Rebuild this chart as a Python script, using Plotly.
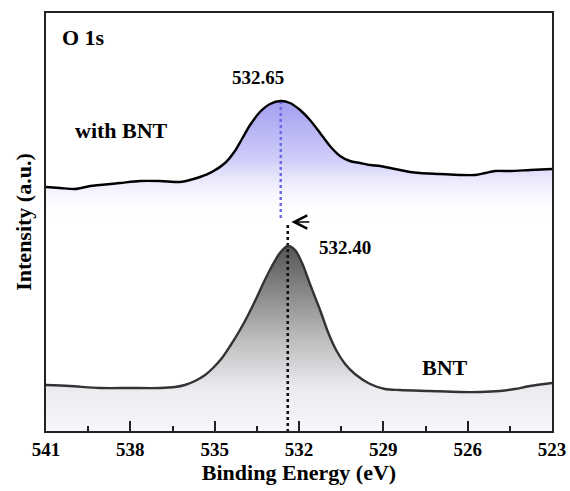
import plotly.graph_objects as go

# Binding energy (eV) and intensity (a.u.)
be_with = [541.00, 540.50, 539.97, 539.43, 539.08, 538.37, 537.66, 536.94, 536.23, 535.88,
           535.52, 535.10, 534.63, 534.28, 534.03, 533.74, 533.39, 533.03, 532.65, 532.32,
           531.96, 531.61, 531.25, 530.90, 530.54, 530.19, 529.83, 529.47, 529.12, 528.76,
           528.41, 528.05, 527.70, 526.99, 526.27, 525.74, 525.38, 525.03, 524.49, 523.78, 523.00]
int_with = [244, 243, 242, 245, 246, 248, 250, 250, 249, 251,
            254, 259, 268, 280, 292, 306, 319, 327, 330, 328,
            321, 311, 298, 285, 275, 270, 268, 266, 265, 263,
            261, 259, 258, 257, 256, 256, 258, 260, 260, 261, 262]

be_bnt = [541.00, 540.15, 539.08, 538.01, 536.94, 536.41, 536.06, 535.70, 535.34, 535.06,
          534.74, 534.45, 534.10, 533.81, 533.53, 533.25, 532.96, 532.68, 532.40, 532.14,
          531.89, 531.61, 531.25, 530.97, 530.68, 530.36, 530.01, 529.47, 528.94, 528.41,
          527.34, 526.27, 525.56, 524.85, 524.32, 523.78, 523.00]
int_bnt = [46, 45, 43, 43, 43, 44, 46, 50, 56, 63,
           73, 85, 101, 116, 132, 149, 165, 178, 185, 181,
           168, 147, 121, 99, 81, 67, 57, 47, 42, 41,
           40, 39, 39, 40, 42, 45, 48]

peak_with = 532.65
peak_bnt = 532.40
x_ticks = [541, 538, 535, 532, 529, 526, 523]

FONT = "Liberation Serif"

fig = go.Figure()

# gradient fills
fig.add_trace(go.Scatter(
    x=be_with, y=int_with, mode="lines", line=dict(width=0, shape="spline", smoothing=0.8),
    fill="tozeroy",
    fillgradient=dict(type="vertical", start=211, stop=330,
                      colorscale=[[0, "rgba(255,255,255,0)"], [0.5, "rgba(208,206,249,1)"],
                                  [1, "rgba(162,158,240,1)"]]),
    hoverinfo="skip", showlegend=False))
fig.add_trace(go.Scatter(
    x=be_bnt, y=int_bnt, mode="lines", line=dict(width=0, shape="spline", smoothing=0.8),
    fill="tozeroy",
    fillgradient=dict(type="vertical", start=0, stop=185,
                      colorscale=[[0, "#f6f8fb"], [0.23, "#e9ebef"], [0.5, "#bcbcbd"],
                                  [1, "#555555"]]),
    hoverinfo="skip", showlegend=False))

# dotted peak markers
fig.add_trace(go.Scatter(x=[peak_with, peak_with], y=[330, 211], mode="lines",
                         line=dict(color="#6a68e6", width=2.4, dash="dot"),
                         hoverinfo="skip", showlegend=False))
fig.add_trace(go.Scatter(x=[peak_bnt, peak_bnt], y=[206, 0], mode="lines",
                         line=dict(color="#111111", width=2.6, dash="dot"),
                         hoverinfo="skip", showlegend=False))

# curves
fig.add_trace(go.Scatter(x=be_with, y=int_with, mode="lines",
                         line=dict(color="#000000", width=2.4, shape="spline", smoothing=0.8),
                         name="with BNT", showlegend=False))
fig.add_trace(go.Scatter(x=be_bnt, y=int_bnt, mode="lines",
                         line=dict(color="#333333", width=2.4, shape="spline", smoothing=0.8),
                         name="BNT", showlegend=False))

lab = dict(family=FONT, size=22, color="#000000", weight="bold")
num = dict(family=FONT, size=19, color="#000000", weight="bold")
fig.add_annotation(x=539.67, y=394, text="<b>O 1s</b>", showarrow=False, font=lab)
fig.add_annotation(x=538.31, y=301, text="<b>with BNT</b>", showarrow=False, font=lab)
fig.add_annotation(x=526.79, y=64, text="<b>BNT</b>", showarrow=False, font=lab)
fig.add_annotation(x=533.46, y=354, text="<b>532.65</b>", showarrow=False, font=num)
fig.add_annotation(x=530.36, y=184, text="<b>532.40</b>", showarrow=False, font=num)
fig.add_annotation(x=532.27, y=209, ax=531.58, ay=209, xref="x", yref="y",
                   axref="x", ayref="y", text="", showarrow=True,
                   arrowhead=5, arrowsize=1.6, arrowwidth=1.6, arrowcolor="#000000")

fig.update_xaxes(
    range=[541, 523], tickvals=x_ticks, ticktext=[str(v) for v in x_ticks],
    ticks="inside", ticklen=10, tickwidth=2, tickcolor="#222222",
    minor=dict(dtick=1.5, tick0=541, ticks="inside", ticklen=5, tickwidth=2, tickcolor="#222222"),
    showline=True, linewidth=2, linecolor="#222222", mirror=True,
    showgrid=False, zeroline=False, automargin=False, ticklabelstandoff=0,
    tickfont=dict(family=FONT, size=19, color="#000000", weight="bold"),
    title=dict(text="<b>Binding Energy (eV)</b>", standoff=6,
               font=dict(family=FONT, size=22, color="#000000", weight="bold")))
fig.update_yaxes(
    range=[0, 418], showticklabels=False, ticks="",
    showline=True, linewidth=2, linecolor="#222222", mirror=True,
    showgrid=False, zeroline=False, automargin=False,
    title=dict(text="<b>Intensity (a.u.)</b>", standoff=6,
               font=dict(family=FONT, size=22, color="#000000", weight="bold")))

fig.update_layout(
    width=570, height=491,
    margin=dict(l=46, r=18, t=13, b=60),
    paper_bgcolor="white", plot_bgcolor="white",
    showlegend=False)

fig.write_html("out.html")
